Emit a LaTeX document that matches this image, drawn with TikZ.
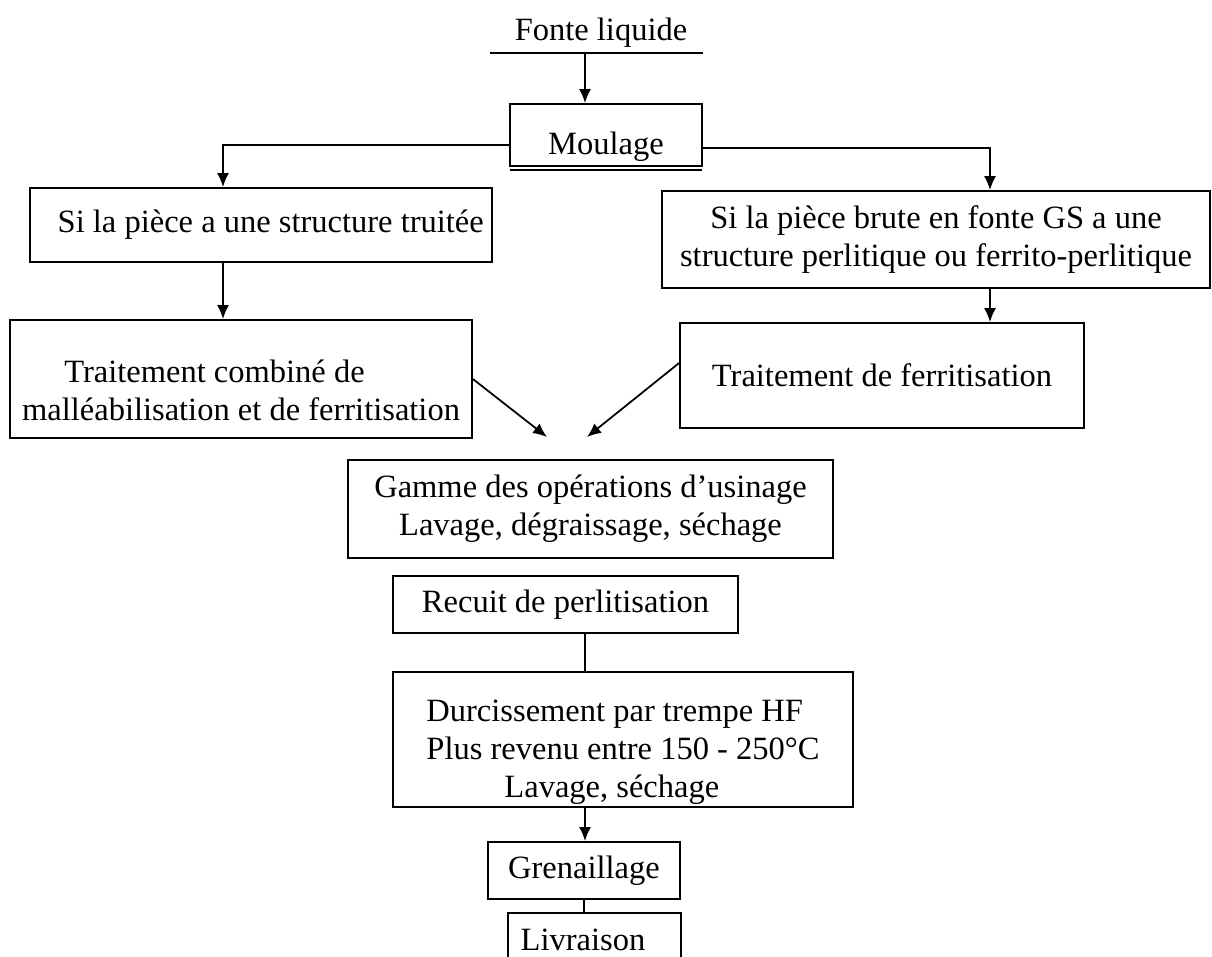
\documentclass[tikz,border=0pt]{standalone}
\usepackage{fontspec}
\setmainfont{Liberation Serif}
\usetikzlibrary{arrows.meta}

\tikzset{
  box/.style={draw, line width=1pt, align=center, inner sep=2pt},
  flow/.style={line width=1pt, -{Latex[length=2.8mm,width=2.4mm]}},
  link/.style={line width=1pt},
}

\begin{document}
\begin{tikzpicture}[font=\fontsize{18.5}{21.5}\selectfont]
\useasboundingbox (0,0) rectangle (24.24,-19.14);
%\draw[red,very thin] (0,0) rectangle (24.24,-19.14); % page frame

\node (fonte) at (12.02,-0.66) {Fonte liquide};
\draw[link] (9.8,-1.06) -- (14.06,-1.06);
\coordinate (fl) at (11.7,-1.06);

\node[box, minimum width=3.84cm, minimum height=1.24cm, text height=0.8cm, text depth=0pt] (moul) at (12.12,-2.7) {Moulage};
\draw[link] (10.2,-3.4) -- (14.04,-3.4);

\node[box, minimum width=9.24cm, minimum height=1.48cm] (si1) at (5.22,-4.5) {\hspace*{0.6em}Si la pièce a une structure truitée};
\node[box, minimum width=10.96cm, minimum height=1.94cm] (si2) at (18.72,-4.79)
  {Si la pièce brute en fonte GS a une\\structure perlitique ou ferrito-perlitique};

\node[box, align=left, minimum width=9.24cm, minimum height=2.36cm, text height=1.64cm, text depth=0pt] (trc) at (4.82,-7.58)
  {\hspace*{1.3em}Traitement combiné de\\malléabilisation et de ferritisation};
\node[box, minimum width=8.08cm, minimum height=2.1cm] (fer) at (17.64,-7.51) {Traitement de ferritisation};

\node[box, minimum width=9.7cm, minimum height=1.96cm] (gam) at (11.81,-10.18)
  {Gamme des opérations d’usinage\\Lavage, dégraissage, séchage};
\node[box, minimum width=6.9cm, minimum height=1.14cm] (rec) at (11.31,-12.09) {Recuit de perlitisation};
\node[box, align=left, minimum width=9.2cm, minimum height=2.7cm, text height=2.3cm, text depth=0pt] (dur) at (12.46,-14.79)
  {Durcissement par trempe HF\\Plus revenu entre 150 - 250°C\\\hspace*{2.4em}Lavage, séchage};
\node[box, minimum width=3.84cm, minimum height=1.14cm] (gre) at (11.68,-17.41) {Grenaillage};

% open box at the foot of the page
\draw[link] (10.16,-19.14) -- (10.16,-18.26) -- (13.62,-18.26) -- (13.62,-19.14);
\node (liv) at (11.66,-18.8) {Livraison};
\coordinate (livtop) at (11.68,-18.26);

% connectors
\draw[flow] (fl) -- (fl |- moul.north);
\draw[flow] ([yshift=-2mm]moul.west) -| ([xshift=-0.76cm]si1.north);
\draw[flow] ([yshift=-2.6mm]moul.east) -| ([xshift=1.08cm]si2.north);
\draw[flow] ([xshift=-0.76cm]si1.south) -- ([xshift=-0.76cm]si1.south |- trc.north);
\draw[flow] ([xshift=1.08cm]si2.south) -- ([xshift=1.08cm]si2.south |- fer.north);

\coordinate (tipL) at (10.94,-8.74);
\coordinate (tipR) at (11.74,-8.74);
\draw[flow] (trc.east) -- (tipL);
\draw[flow] ([yshift=2.5mm]fer.west) -- (tipR);

\draw[link] ([xshift=0.39cm]rec.south) -- ([xshift=0.39cm]rec.south |- dur.north);
\draw[flow] ([xshift=-0.76cm]dur.south) -- ([xshift=-0.76cm]dur.south |- gre.north);
\draw[link] (gre.south) -- (livtop);
\end{tikzpicture}
\end{document}
